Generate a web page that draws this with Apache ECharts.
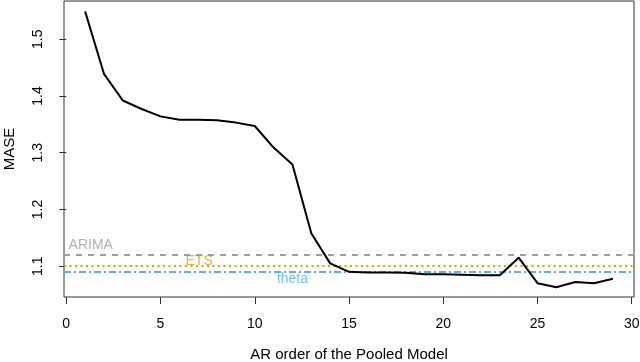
<!DOCTYPE html>
<html>
<head>
<meta charset="utf-8">
<script src="https://cdn.jsdelivr.net/npm/echarts@6/dist/echarts.min.js"></script>
<style>
  html, body { margin: 0; padding: 0; background: #fff; }
  #chart { width: 640px; height: 362px; }
</style>
</head>
<body>
<div id="chart"></div>
<script>
// AR order 1..29 and the pooled model MASE
const arOrder = [1, 2, 3, 4, 5, 6, 7, 8, 9, 10, 11, 12, 13, 14, 15, 16, 17, 18, 19, 20, 21, 22, 23, 24, 25, 26, 27, 28, 29];
const mase = [1.549, 1.439, 1.392, 1.377, 1.364, 1.358, 1.358, 1.357, 1.353, 1.347, 1.309, 1.279, 1.158, 1.105, 1.090,
  1.089, 1.089, 1.0885, 1.086, 1.086, 1.085, 1.084, 1.084, 1.115, 1.070, 1.063, 1.072, 1.070, 1.078];

// benchmark methods (horizontal reference lines)
const benchNames = ["ARIMA", "ETS", "theta"];
const benchValues = [1.1236, 1.0982, 1.0912];
const benchColors = ["#9e9e9e", "#E69F00", "#56B4E9"];
const benchDash = [[6, 6], [2, 3.5], [7, 3, 2, 3]];
// text label positions for each benchmark (data coords)
const labelX = [1.3, 7.05, 12.0];
const labelY = [1.137, 1.109, 1.077];

const xTicks = [0, 5, 10, 15, 20, 25, 30];
const yTicks = [1.1, 1.2, 1.3, 1.4, 1.5];

const font = "Liberation Sans, Arial, sans-serif";

let series = [
  {
    type: "line",
    data: arOrder.map((x, i) => [x, mase[i]]),
    symbol: "none",
    lineStyle: { color: "#000", width: 2 },
    z: 5
  }
];

benchNames.forEach((name, i) => {
  series.push({
    type: "line",
    name: name,
    data: [],
    markLine: {
      silent: true,
      symbol: "none",
      label: { show: false },
      lineStyle: { color: benchColors[i], type: benchDash[i], width: 2 },
      data: [{ yAxis: benchValues[i] }]
    }
  });
  series.push({
    type: "scatter",
    data: [[labelX[i], labelY[i]]],
    symbolSize: 0,
    label: {
      show: true,
      position: "inside",
      formatter: name,
      color: benchColors[i],
      fontFamily: font,
      fontSize: 14
    }
  });
});

let myCharts = echarts.init(document.getElementById("chart"));
myCharts.setOption({
  animation: false,
  backgroundColor: "#fff",
  grid: {
    left: 64,
    right: 6,
    top: 1,
    bottom: 65,
    outerBoundsMode: "none",
    containLabel: false,
    show: true,
    borderColor: "#333",
    borderWidth: 1
  },
  xAxis: {
    type: "value",
    min: -0.12,
    max: 30.12,
    name: "AR order of the Pooled Model",
    nameLocation: "middle",
    nameGap: 50,
    nameTextStyle: { color: "#000", fontFamily: font, fontSize: 15 },
    splitLine: { show: false },
    axisLine: { show: false },
    axisTick: { show: true, length: 7, customValues: xTicks, lineStyle: { color: "#333" } },
    axisLabel: { customValues: xTicks, margin: 20, color: "#000", fontFamily: font, fontSize: 14 }
  },
  yAxis: {
    type: "value",
    min: 1.0457,
    max: 1.5673,
    name: "MASE",
    nameLocation: "middle",
    nameRotate: 90,
    nameGap: 47,
    nameTextStyle: { color: "#000", fontFamily: font, fontSize: 15 },
    splitLine: { show: false },
    axisLine: { show: false },
    axisTick: { show: true, length: 7, customValues: yTicks, lineStyle: { color: "#333" } },
    axisLabel: {
      customValues: yTicks,
      rotate: 90,
      margin: 19,
      color: "#000",
      fontFamily: font,
      fontSize: 14,
      formatter: v => v.toFixed(1)
    }
  },
  series: series
});
</script>
</body>
</html>
